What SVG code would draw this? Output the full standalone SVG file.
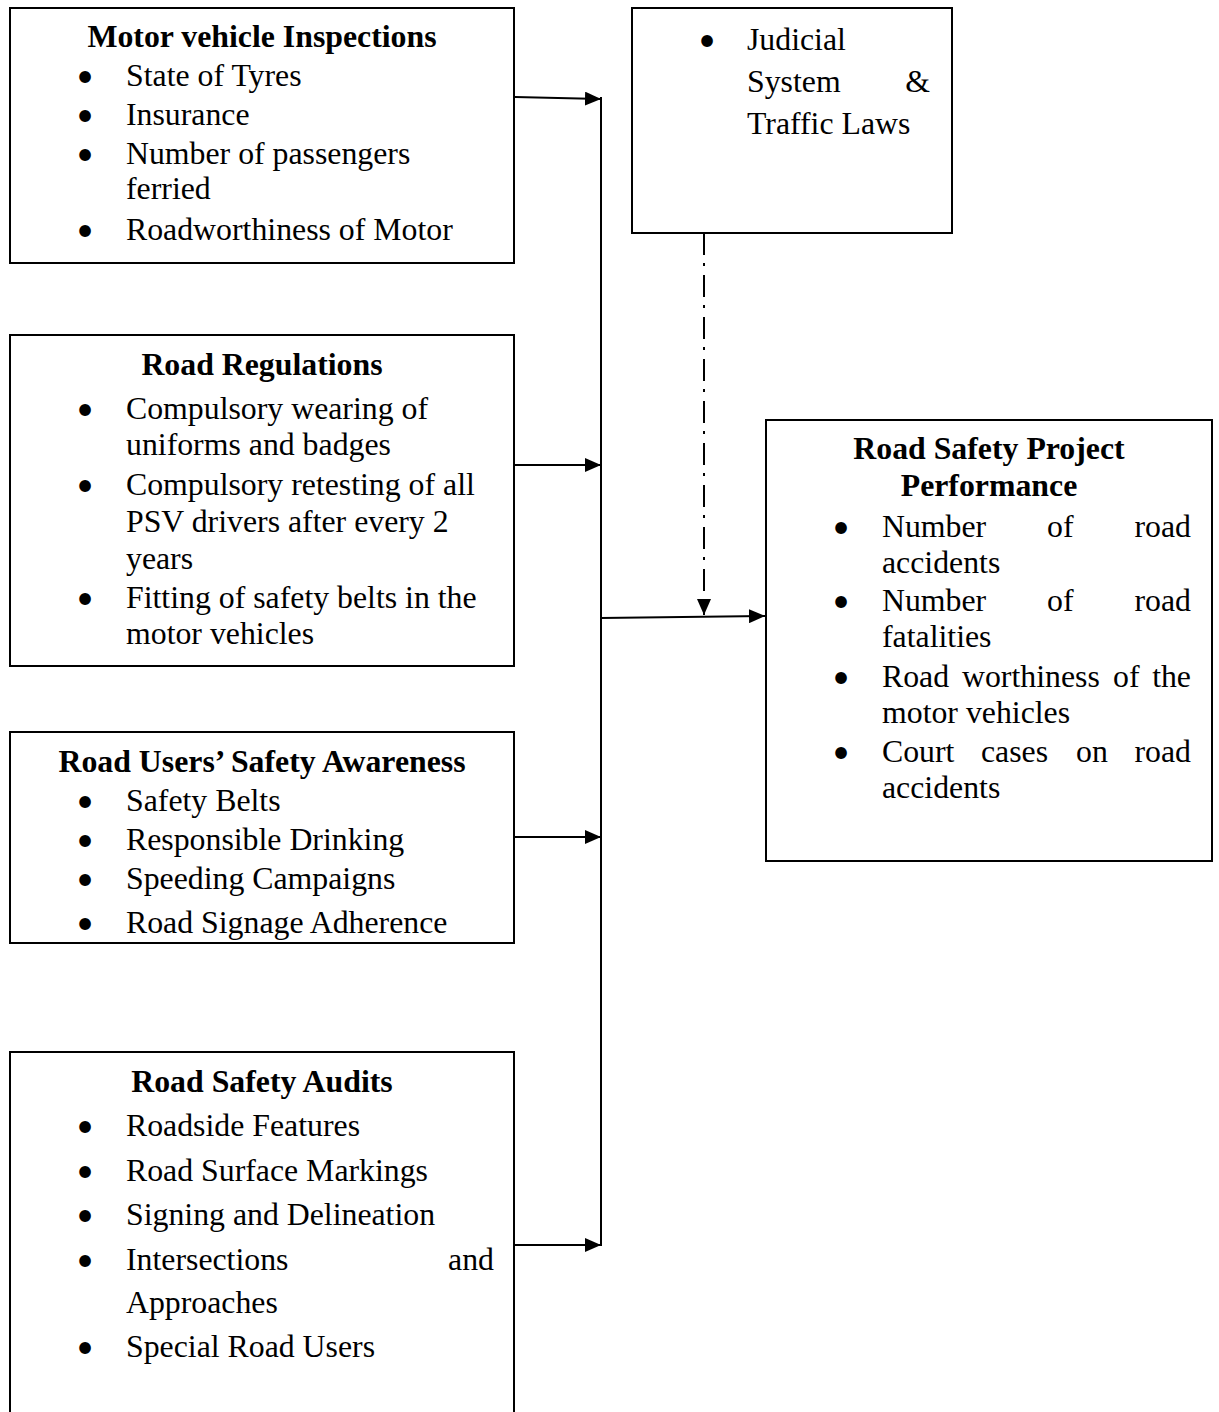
<svg xmlns="http://www.w3.org/2000/svg" width="1219" height="1412" viewBox="0 0 1219 1412">
<style>
.box{fill:#fff;stroke:#000;stroke-width:2}
text{font-family:"Liberation Serif","Times New Roman",serif;font-size:31.8px;fill:#000}
.t{font-weight:bold;text-anchor:middle}
.b{font-family:"DejaVu Sans",sans-serif;font-size:33px;font-weight:bold;text-anchor:middle}
.c{fill:none;stroke:#000;stroke-width:2}
.dd{stroke-dasharray:22 8 3 9}
</style>
<defs>
<marker id="ah" markerWidth="16" markerHeight="14" refX="16" refY="7" orient="auto" markerUnits="userSpaceOnUse">
<path d="M0,0 L16,7 L0,14 Z" fill="#000"/>
</marker>
<clipPath id="clip3"><rect x="10" y="732" width="504" height="210"/></clipPath>
</defs>
<rect width="1219" height="1412" fill="#fff"/>

<g id="connectors">
<line class="c" x1="601" y1="97" x2="601" y2="1246"/>
<line class="c" x1="515" y1="97" x2="601" y2="99" marker-end="url(#ah)"/>
<line class="c" x1="515" y1="465" x2="601" y2="465" marker-end="url(#ah)"/>
<line class="c" x1="515" y1="837" x2="601" y2="837" marker-end="url(#ah)"/>
<line class="c" x1="515" y1="1245" x2="601" y2="1245" marker-end="url(#ah)"/>
<line class="c" x1="601" y1="618" x2="765" y2="616" marker-end="url(#ah)"/>
<line class="c dd" x1="704" y1="233" x2="704" y2="615" marker-end="url(#ah)"/>
</g>

<g id="motor-vehicle-inspections">
<rect class="box" x="10" y="8" width="504" height="255"/>
<text class="t" x="262" y="47">Motor vehicle Inspections</text>
<text class="b" x="85" y="90">•</text>
<text x="126" y="86">State of Tyres</text>
<text class="b" x="85" y="129">•</text>
<text x="126" y="125">Insurance</text>
<text class="b" x="85" y="168">•</text>
<text x="126" y="164">Number of passengers</text>
<text x="126" y="199">ferried</text>
<text class="b" x="85" y="244">•</text>
<text x="126" y="240">Roadworthiness of Motor</text>
</g>

<g id="road-regulations">
<rect class="box" x="10" y="335" width="504" height="331"/>
<text class="t" x="262" y="375">Road Regulations</text>
<text class="b" x="85" y="423">•</text>
<text x="126" y="419">Compulsory wearing of</text>
<text x="126" y="455">uniforms and badges</text>
<text class="b" x="85" y="499">•</text>
<text x="126" y="495">Compulsory retesting of all</text>
<text x="126" y="532">PSV drivers after every 2</text>
<text x="126" y="569">years</text>
<text class="b" x="85" y="612">•</text>
<text x="126" y="608">Fitting of safety belts in the</text>
<text x="126" y="644">motor vehicles</text>
</g>

<g id="road-users-safety-awareness">
<rect class="box" x="10" y="732" width="504" height="211"/>
<text class="t" x="262" y="772">Road Users’ Safety Awareness</text>
<text class="b" x="85" y="815">•</text>
<text x="126" y="811">Safety Belts</text>
<text class="b" x="85" y="854">•</text>
<text x="126" y="850">Responsible Drinking</text>
<text class="b" x="85" y="893">•</text>
<text x="126" y="889">Speeding Campaigns</text>
<g clip-path="url(#clip3)">
<text class="b" x="85" y="937">•</text>
<text x="126" y="933">Road Signage Adherence</text>
</g>
</g>

<g id="road-safety-audits">
<path class="c" d="M10,1413 V1052 H514 V1413"/>
<text class="t" x="262" y="1092">Road Safety Audits</text>
<text class="b" x="85" y="1140">•</text>
<text x="126" y="1136">Roadside Features</text>
<text class="b" x="85" y="1185">•</text>
<text x="126" y="1181">Road Surface Markings</text>
<text class="b" x="85" y="1229">•</text>
<text x="126" y="1225">Signing and Delineation</text>
<text class="b" x="85" y="1274">•</text>
<text x="126" y="1270">Intersections</text>
<text x="494" y="1270" text-anchor="end">and</text>
<text x="126" y="1313">Approaches</text>
<text class="b" x="85" y="1361">•</text>
<text x="126" y="1357">Special Road Users</text>
</g>

<g id="judicial-system">
<rect class="box" x="632" y="8" width="320" height="225"/>
<text class="b" x="707" y="54">•</text>
<text x="747" y="50">Judicial</text>
<text x="747" y="92">System</text>
<text x="930" y="92" text-anchor="end">&amp;</text>
<text x="747" y="134">Traffic Laws</text>
</g>

<g id="road-safety-project-performance">
<rect class="box" x="766" y="420" width="446" height="441"/>
<text class="t" x="989" y="459">Road Safety Project</text>
<text class="t" x="989" y="496">Performance</text>
<text class="b" x="841" y="541">•</text>
<text x="882" y="537">Number</text>
<text x="1047" y="537">of</text>
<text x="1191" y="537" text-anchor="end">road</text>
<text x="882" y="573">accidents</text>
<text class="b" x="841" y="615">•</text>
<text x="882" y="611">Number</text>
<text x="1047" y="611">of</text>
<text x="1191" y="611" text-anchor="end">road</text>
<text x="882" y="647">fatalities</text>
<text class="b" x="841" y="691">•</text>
<text x="882" y="687">Road</text>
<text x="962" y="687">worthiness</text>
<text x="1113" y="687">of</text>
<text x="1191" y="687" text-anchor="end">the</text>
<text x="882" y="723">motor vehicles</text>
<text class="b" x="841" y="766">•</text>
<text x="882" y="762">Court</text>
<text x="981" y="762">cases</text>
<text x="1076" y="762">on</text>
<text x="1191" y="762" text-anchor="end">road</text>
<text x="882" y="798">accidents</text>
</g>
</svg>
